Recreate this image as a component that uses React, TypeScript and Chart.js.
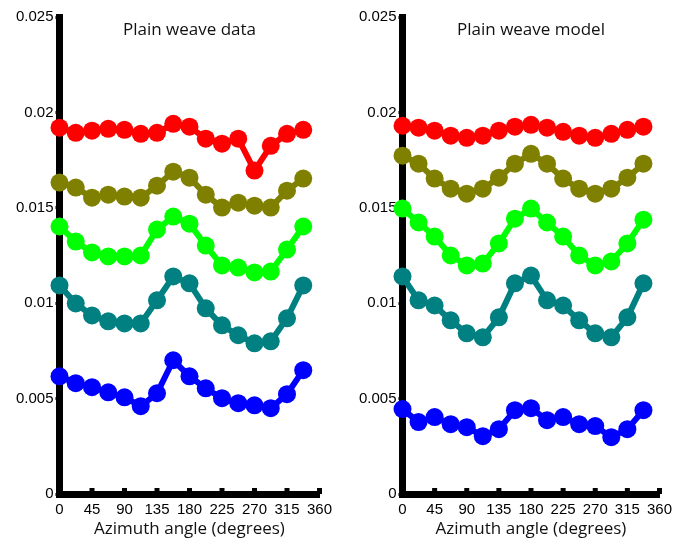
import React, { useEffect, useRef } from "react";
import { Chart, registerables } from "chart.js";

Chart.register(...registerables);

const angles = [0, 22.5, 45, 67.5, 90, 112.5, 135, 157.5, 180, 202.5, 225, 247.5, 270, 292.5, 315, 337.5];

const seriesColors = ["#ff0000", "#808000", "#00ff00", "#008080", "#0000ff"];

// Plain weave data
const dataRed = [0.0192, 0.01893, 0.01904, 0.01914, 0.01909, 0.01888, 0.01893, 0.0194, 0.01925, 0.01862, 0.01836, 0.01862, 0.01695, 0.01825, 0.01888, 0.01909];
const dataOlive = [0.01632, 0.01606, 0.01553, 0.01569, 0.01559, 0.01553, 0.01616, 0.01689, 0.01658, 0.01569, 0.01501, 0.01527, 0.01511, 0.01501, 0.0159, 0.01653];
const dataGreen = [0.01402, 0.01323, 0.01266, 0.01245, 0.01245, 0.0125, 0.01386, 0.01454, 0.01417, 0.01302, 0.01198, 0.01187, 0.01161, 0.01166, 0.01281, 0.01402];
const dataTeal = [0.01093, 0.00999, 0.00936, 0.00905, 0.00894, 0.00894, 0.01015, 0.0114, 0.01104, 0.00973, 0.00884, 0.00832, 0.0079, 0.008, 0.00921, 0.01093];
const dataBlue = [0.00617, 0.00581, 0.0056, 0.00533, 0.00507, 0.0046, 0.00528, 0.00701, 0.00617, 0.00554, 0.00502, 0.00476, 0.00465, 0.0045, 0.00523, 0.00649];

// Plain weave model
const modelRed = [0.0193, 0.0192, 0.01904, 0.01878, 0.01867, 0.01878, 0.01904, 0.01925, 0.01935, 0.0192, 0.01898, 0.01878, 0.01867, 0.01888, 0.01909, 0.01925];
const modelOlive = [0.01773, 0.01731, 0.01653, 0.016, 0.01574, 0.016, 0.01658, 0.01731, 0.01783, 0.01731, 0.01653, 0.016, 0.01574, 0.016, 0.01658, 0.01731];
const modelGreen = [0.01496, 0.01423, 0.01349, 0.0125, 0.01198, 0.01208, 0.01313, 0.01443, 0.01496, 0.01423, 0.01349, 0.0125, 0.01198, 0.01219, 0.01313, 0.01438];
const modelTeal = [0.0114, 0.01015, 0.00988, 0.0091, 0.00842, 0.00821, 0.00926, 0.01104, 0.01145, 0.01015, 0.00988, 0.0091, 0.00842, 0.00821, 0.00926, 0.01104];
const modelBlue = [0.00445, 0.00377, 0.00403, 0.00366, 0.0035, 0.00303, 0.0034, 0.00439, 0.0045, 0.00387, 0.00403, 0.00366, 0.00356, 0.00298, 0.0034, 0.00439];

const xTicks = [0, 45, 90, 135, 180, 225, 270, 315, 360];
const yTickLabels = ["0", "0.005", "0.01", "0.015", "0.02", "0.025"];

const panelTitles = ["Plain weave data", "Plain weave model"];
const xTitle = "Azimuth angle (degrees)";

const W = 344;
const H = 539;

function makeChart(canvas: HTMLCanvasElement, title: string, series: number[][], left: number, right: number) {
  const titlePlugin = {
    id: "panelTitle",
    afterDraw(chart: any) {
      const ctx = chart.ctx;
      const ca = chart.chartArea;
      ctx.save();
      ctx.font = "17px 'Open Sans'";
      ctx.fillStyle = "#111";
      ctx.textAlign = "center";
      ctx.textBaseline = "middle";
      ctx.fillText(title, (ca.left + ca.right) / 2, 30);
      ctx.restore();
    },
    beforeDatasetsDraw(chart: any) {
      const ctx = chart.ctx;
      const xs = chart.scales.x;
      const ca = chart.chartArea;
      ctx.save();
      ctx.fillStyle = "#000";
      xTicks.forEach((t) => {
        const px = xs.getPixelForValue(t);
        ctx.fillRect(px - 2.5, ca.bottom - 6, 5, 6);
      });
      ctx.restore();
    },
  };

  return new Chart(canvas, {
    type: "line",
    data: {
      datasets: series.map((vals, i) => ({
        data: vals.map((v, j) => ({ x: angles[j], y: v })),
        borderColor: seriesColors[i],
        backgroundColor: seriesColors[i],
        borderWidth: 6,
        pointRadius: 9,
        pointBorderWidth: 0,
        pointHoverRadius: 9,
        tension: 0,
        clip: false as any,
      })),
    },
    options: {
      responsive: false,
      animation: false,
      devicePixelRatio: 1,
      layout: { padding: { left: 0, right: W - right, top: 17, bottom: 0 } },
      plugins: { legend: { display: false }, tooltip: { enabled: false }, title: { display: false } },
      scales: {
        x: {
          type: "linear",
          min: 0,
          max: 360,
          afterBuildTicks: (scale: any) => {
            scale.ticks = xTicks.map((v) => ({ value: v }));
          },
          afterFit: (scale: any) => {
            scale.height = H - 494;
          },
          ticks: {
            autoSkip: false,
            maxRotation: 0,
            padding: 3,
            color: "#000",
            font: { family: "'Liberation Sans', Arial, sans-serif", size: 15 },
            callback: (v: any) => String(v),
          },
          grid: { display: false, drawOnChartArea: false, tickLength: 4 },
          border: { display: true, color: "#000", width: 7 },
          title: {
            display: true,
            text: xTitle,
            color: "#111",
            font: { family: "'Open Sans'", size: 17 },
            padding: { top: 0, bottom: 0 },
          },
        },
        y: {
          type: "linear",
          min: 0,
          max: 0.025,
          afterBuildTicks: (scale: any) => {
            scale.ticks = yTickLabels.map((s) => ({ value: parseFloat(s) }));
          },
          afterFit: (scale: any) => {
            scale.width = left;
          },
          ticks: {
            autoSkip: false,
            padding: 2,
            color: "#000",
            font: { family: "'Liberation Sans', Arial, sans-serif", size: 15 },
            callback: (v: any) => {
              const idx = yTickLabels.findIndex((s) => Math.abs(parseFloat(s) - v) < 1e-9);
              return idx >= 0 ? yTickLabels[idx] : "";
            },
          },
          grid: { display: true, drawOnChartArea: false, tickLength: 4, color: "#000", lineWidth: 3 },
          border: { display: true, color: "#000", width: 7 },
        },
      },
    } as any,
    plugins: [titlePlugin],
  });
}

export default function App() {
  const ref1 = useRef<HTMLCanvasElement>(null);
  const ref2 = useRef<HTMLCanvasElement>(null);

  useEffect(() => {
    document.body.style.margin = "0";
    const c1 = makeChart(ref1.current!, panelTitles[0], [dataRed, dataOlive, dataGreen, dataTeal, dataBlue], 59.5, 319.5);
    const c2 = makeChart(ref2.current!, panelTitles[1], [modelRed, modelOlive, modelGreen, modelTeal, modelBlue], 58.5, 315.5);
    return () => {
      c1.destroy();
      c2.destroy();
    };
  }, []);

  return (
    <div style={{ display: "flex", width: 688, height: H, background: "#fff" }}>
      <canvas ref={ref1} width={W} height={H} style={{ width: W, height: H, display: "block" }} />
      <canvas ref={ref2} width={W} height={H} style={{ width: W, height: H, display: "block" }} />
    </div>
  );
}
